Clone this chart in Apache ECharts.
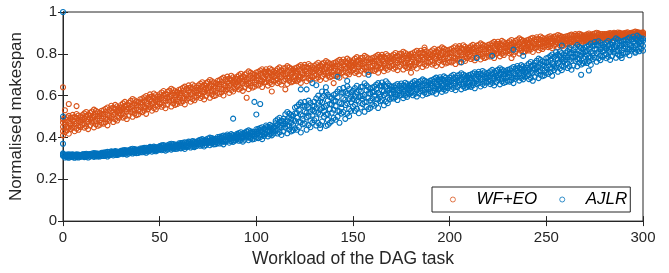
<!DOCTYPE html>
<html>
<head>
<meta charset="utf-8">
<title>Normalised makespan</title>
<script src="https://cdn.jsdelivr.net/npm/echarts@6/dist/echarts.min.js"></script>
<style>
  html, body { margin: 0; padding: 0; background: #fff; }
  #chart { width: 669px; height: 273px; }
</style>
</head>
<body>
<div id="chart"></div>
<script>
var xTicks = [0, 50, 100, 150, 200, 250, 300];
var yTicks = [0, 0.2, 0.4, 0.6, 0.8, 1];

// WF+EO: four samples per workload value, x = index (0..300)
var wfA = [
  .472,.491,.448,.503,.465,.447,.498,.469,.505,.486,
  .507,.490,.453,.475,.518,.471,.499,.512,.456,.481,
  .528,.500,.473,.487,.534,.525,.474,.538,.499,.516,
  .508,.495,.570,.536,.553,.537,.499,.578,.554,.511,
  .567,.586,.543,.598,.560,.545,.596,.567,.603,.584,
  .607,.590,.553,.575,.618,.571,.599,.612,.556,.581,
  .628,.600,.573,.587,.634,.622,.571,.635,.596,.613,
  .602,.589,.664,.630,.647,.628,.590,.669,.645,.602,
  .655,.674,.631,.686,.648,.630,.681,.652,.688,.669,
  .690,.673,.636,.658,.701,.654,.682,.695,.639,.664,
  .711,.683,.656,.670,.717,.699,.648,.712,.673,.690,
  .673,.660,.735,.701,.718,.694,.656,.735,.711,.668,
  .715,.734,.691,.746,.708,.686,.737,.708,.744,.725,
  .742,.725,.688,.710,.753,.703,.731,.744,.688,.713,
  .756,.728,.701,.715,.762,.746,.695,.759,.720,.737,
  .722,.709,.784,.750,.767,.743,.705,.784,.760,.717,
  .764,.783,.740,.795,.757,.734,.785,.756,.792,.773,
  .789,.772,.735,.757,.800,.748,.776,.789,.733,.758,
  .800,.772,.745,.759,.806,.788,.737,.801,.762,.779,
  .762,.749,.824,.790,.807,.784,.746,.825,.801,.758,
  .805,.824,.781,.836,.798,.776,.827,.798,.834,.815,
  .829,.814,.781,.800,.839,.794,.819,.831,.780,.803,
  .843,.818,.794,.806,.849,.834,.788,.846,.810,.826,
  .813,.802,.866,.837,.851,.834,.801,.868,.848,.811,
  .853,.868,.833,.877,.847,.831,.871,.848,.877,.862,
  .874,.862,.836,.851,.882,.847,.866,.875,.836,.854,
  .883,.866,.850,.858,.886,.878,.847,.885,.862,.872,
  .866,.860,.897,.880,.888,.878,.859,.898,.886,.865,
  .888,.895,.880,.899,.886,.879,.897,.887,.900,.893,
  .898,.893,.882,.888,.901,.887,.896,.900,.883,.890,
  .899
];
var wfB = [
  .451,.426,.482,.469,.441,.508,.465,.443,.480,.497,
  .482,.465,.504,.440,.491,.524,.477,.463,.490,.518,
  .470,.513,.537,.458,.496,.539,.522,.556,.481,.494,
  .544,.563,.527,.556,.505,.546,.584,.529,.572,.553,
  .546,.521,.577,.564,.536,.606,.563,.541,.578,.595,
  .582,.565,.604,.540,.591,.624,.577,.563,.590,.618,
  .570,.613,.637,.558,.596,.636,.619,.653,.578,.591,
  .638,.657,.621,.650,.599,.637,.675,.620,.663,.644,
  .634,.609,.665,.652,.624,.691,.648,.626,.663,.680,
  .665,.648,.687,.623,.674,.707,.660,.646,.673,.701,
  .653,.696,.720,.641,.679,.713,.696,.730,.655,.668,
  .709,.728,.692,.721,.670,.703,.741,.686,.729,.710,
  .694,.669,.725,.712,.684,.747,.704,.682,.719,.736,
  .717,.700,.739,.675,.726,.756,.709,.695,.722,.750,
  .698,.741,.765,.686,.724,.760,.743,.777,.702,.715,
  .758,.777,.741,.770,.719,.752,.790,.735,.778,.759,
  .743,.718,.774,.761,.733,.795,.752,.730,.767,.784,
  .764,.747,.786,.722,.773,.801,.754,.740,.767,.795,
  .742,.785,.809,.730,.768,.802,.785,.819,.744,.757,
  .798,.817,.781,.810,.759,.793,.831,.776,.819,.800,
  .784,.759,.815,.802,.774,.837,.794,.772,.809,.826,
  .807,.791,.827,.769,.815,.842,.799,.787,.811,.836,
  .791,.830,.851,.780,.814,.847,.831,.862,.794,.806,
  .844,.860,.829,.854,.810,.841,.874,.827,.863,.847,
  .836,.816,.861,.850,.828,.879,.845,.827,.857,.871,
  .856,.844,.872,.827,.863,.884,.851,.841,.860,.880,
  .848,.874,.888,.841,.864,.886,.876,.896,.851,.859,
  .884,.893,.876,.890,.864,.882,.901,.874,.895,.886,
  .881,.872,.892,.887,.877,.901,.885,.877,.891,.897,
  .891,.885,.897,.878,.893,.903,.889,.885,.893,.901,
  .892
];
var wfC = [
  .488,.460,.433,.447,.494,.481,.430,.494,.455,.472,
  .460,.447,.522,.488,.505,.486,.448,.527,.503,.460,
  .512,.531,.488,.543,.505,.491,.542,.513,.549,.530,
  .555,.538,.501,.523,.566,.522,.550,.563,.507,.532,
  .583,.555,.528,.542,.589,.579,.528,.592,.553,.570,
  .560,.547,.622,.588,.605,.586,.548,.627,.603,.560,
  .612,.631,.588,.643,.605,.588,.639,.610,.646,.627,
  .649,.632,.595,.617,.660,.613,.641,.654,.598,.623,
  .671,.643,.616,.630,.677,.664,.613,.677,.638,.655,
  .643,.630,.705,.671,.688,.669,.631,.710,.686,.643,
  .695,.714,.671,.726,.688,.665,.716,.687,.723,.704,
  .720,.703,.666,.688,.731,.679,.707,.720,.664,.689,
  .731,.703,.676,.690,.737,.720,.669,.733,.694,.711,
  .695,.682,.757,.723,.740,.718,.680,.759,.735,.692,
  .740,.759,.716,.771,.733,.712,.763,.734,.770,.751,
  .769,.752,.715,.737,.780,.728,.756,.769,.713,.738,
  .780,.752,.725,.739,.786,.768,.717,.781,.742,.759,
  .742,.729,.804,.770,.787,.763,.725,.804,.780,.737,
  .784,.803,.760,.815,.777,.754,.805,.776,.812,.793,
  .809,.792,.755,.777,.820,.769,.797,.810,.754,.779,
  .821,.793,.766,.780,.827,.810,.759,.823,.784,.801,
  .787,.775,.843,.812,.828,.807,.773,.844,.823,.784,
  .829,.846,.807,.857,.823,.803,.849,.823,.856,.838,
  .853,.839,.807,.826,.862,.821,.845,.856,.808,.829,
  .865,.843,.821,.833,.870,.858,.817,.868,.837,.851,
  .841,.832,.884,.861,.873,.857,.831,.886,.869,.839,
  .873,.885,.859,.892,.869,.857,.888,.870,.892,.881,
  .889,.881,.863,.874,.895,.870,.884,.891,.863,.876,
  .894,.884,.874,.879,.896,.891,.873,.896,.882,.888,
  .884,.880,.903,.892,.898,.892,.880,.904,.897,.884,
  .888
];
var wfD = [
  .430,.473,.497,.418,.456,.495,.478,.512,.437,.450,
  .496,.515,.479,.508,.457,.495,.533,.478,.521,.502,
  .491,.466,.522,.509,.481,.552,.509,.487,.524,.541,
  .530,.513,.552,.488,.539,.575,.528,.514,.541,.569,
  .525,.568,.592,.513,.551,.593,.576,.610,.535,.548,
  .596,.615,.579,.608,.557,.595,.633,.578,.621,.602,
  .591,.566,.622,.609,.581,.649,.606,.584,.621,.638,
  .624,.607,.646,.582,.633,.666,.619,.605,.632,.660,
  .613,.656,.680,.601,.639,.678,.661,.695,.620,.633,
  .679,.698,.662,.691,.640,.678,.716,.661,.704,.685,
  .674,.649,.705,.692,.664,.726,.683,.661,.698,.715,
  .695,.678,.717,.653,.704,.732,.685,.671,.698,.726,
  .673,.716,.740,.661,.699,.734,.717,.751,.676,.689,
  .731,.750,.714,.743,.692,.727,.765,.710,.753,.734,
  .719,.694,.750,.737,.709,.773,.730,.708,.745,.762,
  .744,.727,.766,.702,.753,.781,.734,.720,.747,.775,
  .722,.765,.789,.710,.748,.782,.765,.799,.724,.737,
  .778,.797,.761,.790,.739,.772,.810,.755,.798,.779,
  .763,.738,.794,.781,.753,.815,.772,.750,.787,.804,
  .784,.767,.806,.742,.793,.822,.775,.761,.788,.816,
  .763,.806,.830,.751,.789,.824,.807,.841,.766,.779,
  .819,.837,.804,.830,.784,.816,.850,.800,.839,.822,
  .810,.787,.838,.826,.801,.858,.819,.800,.833,.848,
  .832,.817,.850,.796,.839,.866,.826,.814,.837,.861,
  .819,.853,.873,.809,.840,.869,.855,.883,.823,.833,
  .866,.880,.854,.875,.839,.864,.890,.852,.882,.868,
  .861,.846,.879,.871,.855,.894,.868,.855,.877,.887,
  .877,.868,.888,.856,.881,.897,.874,.867,.880,.894,
  .873,.889,.897,.869,.883,.896,.890,.902,.875,.880,
  .895,.901,.890,.898,.883,.895,.906,.889,.902,.897,
  .903
];
var wfExtra = [[0,.64],[1,.53],[3,.56],[7,.55],[0,.41],[4,.44],[95,.59],[108,.62],
  [115,.63],[140,.66],[180,.71],[187,.83],[205,.76],[232,.78]];

// AJLR: four samples per workload value, x = index (0..300)
var ajA = [
  .320,.317,.309,.320,.312,.306,.317,.311,.318,.314,
  .319,.315,.307,.312,.321,.312,.318,.321,.309,.314,
  .327,.320,.313,.317,.329,.327,.314,.330,.320,.325,
  .324,.320,.340,.331,.336,.333,.323,.344,.338,.326,
  .342,.348,.336,.351,.340,.337,.352,.344,.354,.349,
  .359,.353,.341,.348,.363,.350,.359,.363,.345,.353,
  .372,.361,.351,.356,.374,.371,.352,.376,.361,.368,
  .366,.360,.392,.377,.385,.379,.363,.397,.386,.368,
  .394,.403,.382,.409,.390,.384,.409,.395,.412,.403,
  .417,.408,.387,.399,.423,.400,.415,.422,.391,.405,
  .439,.420,.402,.411,.443,.439,.405,.448,.422,.433,
  .432,.419,.494,.460,.477,.465,.420,.514,.486,.434,
  .515,.548,.475,.568,.504,.466,.553,.503,.565,.532,
  .571,.539,.469,.510,.592,.499,.552,.577,.470,.518,
  .603,.550,.499,.525,.615,.586,.489,.611,.536,.569,
  .548,.527,.647,.593,.620,.584,.523,.649,.611,.542,
  .617,.643,.583,.660,.607,.578,.649,.609,.659,.632,
  .642,.617,.593,.605,.648,.634,.588,.646,.610,.626,
  .614,.602,.670,.639,.655,.635,.601,.672,.651,.612,
  .658,.675,.636,.686,.652,.633,.679,.653,.686,.668,
  .686,.671,.638,.657,.696,.651,.676,.688,.637,.660,
  .698,.673,.649,.661,.704,.690,.644,.702,.666,.682,
  .667,.655,.723,.692,.708,.688,.654,.725,.704,.665,
  .709,.726,.687,.737,.703,.687,.733,.707,.740,.722,
  .745,.726,.685,.709,.757,.709,.740,.754,.693,.720,
  .779,.745,.713,.729,.786,.775,.714,.791,.744,.764,
  .748,.732,.822,.782,.802,.785,.740,.834,.806,.754,
  .811,.834,.783,.849,.803,.782,.844,.809,.852,.829,
  .845,.826,.785,.809,.857,.806,.837,.851,.790,.817,
  .863,.835,.808,.822,.869,.856,.805,.869,.830,.847,
  .862
];
var ajB = [
  .316,.304,.315,.313,.307,.319,.310,.306,.313,.316,
  .313,.310,.318,.304,.315,.323,.313,.310,.316,.322,
  .312,.323,.329,.309,.319,.330,.326,.335,.316,.319,
  .333,.338,.329,.337,.323,.335,.346,.331,.342,.337,
  .336,.329,.345,.342,.333,.355,.343,.336,.347,.352,
  .351,.345,.358,.337,.354,.367,.352,.347,.356,.365,
  .350,.366,.375,.345,.359,.377,.370,.383,.354,.359,
  .381,.389,.374,.386,.364,.383,.399,.376,.394,.386,
  .384,.371,.399,.392,.379,.414,.393,.382,.400,.408,
  .403,.394,.415,.380,.408,.429,.403,.395,.410,.425,
  .400,.429,.445,.392,.417,.449,.437,.460,.410,.419,
  .468,.487,.451,.480,.429,.476,.522,.456,.507,.484,
  .480,.437,.532,.510,.463,.570,.496,.459,.522,.551,
  .524,.491,.566,.444,.541,.600,.510,.484,.535,.588,
  .493,.575,.620,.470,.542,.613,.580,.645,.502,.527,
  .606,.636,.578,.625,.543,.598,.659,.571,.640,.609,
  .587,.552,.631,.613,.573,.663,.603,.572,.624,.648,
  .590,.629,.650,.579,.613,.647,.631,.662,.594,.606,
  .646,.664,.631,.657,.611,.644,.678,.628,.667,.650,
  .639,.616,.667,.655,.630,.688,.649,.630,.663,.678,
  .664,.648,.684,.626,.672,.699,.656,.644,.668,.693,
  .646,.685,.706,.635,.669,.703,.687,.718,.650,.662,
  .699,.717,.684,.710,.664,.697,.731,.681,.720,.703,
  .690,.667,.718,.706,.681,.742,.703,.684,.717,.732,
  .717,.698,.741,.671,.727,.767,.716,.700,.730,.761,
  .709,.761,.789,.695,.740,.792,.772,.812,.722,.738,
  .791,.814,.771,.806,.744,.796,.842,.776,.827,.804,
  .786,.756,.823,.808,.774,.856,.804,.778,.822,.842,
  .817,.798,.841,.771,.827,.864,.813,.797,.827,.858,
  .805,.848,.872,.793,.831,.870,.853,.887,.812,.825,
  .838
];
var ajC = [
  .324,.311,.306,.308,.318,.313,.303,.316,.308,.311,
  .309,.306,.322,.315,.319,.315,.307,.324,.319,.309,
  .323,.328,.317,.331,.321,.318,.331,.324,.333,.328,
  .336,.332,.322,.328,.339,.329,.336,.340,.325,.332,
  .347,.339,.331,.335,.349,.347,.332,.351,.340,.345,
  .343,.339,.364,.353,.358,.355,.342,.368,.360,.346,
  .366,.373,.356,.377,.363,.358,.378,.367,.380,.373,
  .385,.378,.363,.372,.390,.373,.385,.390,.367,.377,
  .402,.388,.375,.382,.405,.400,.375,.407,.388,.396,
  .391,.384,.425,.406,.416,.408,.387,.430,.417,.393,
  .428,.441,.412,.449,.423,.417,.451,.431,.455,.443,
  .479,.462,.425,.447,.490,.447,.481,.496,.429,.459,
  .543,.495,.449,.473,.553,.524,.437,.546,.479,.508,
  .482,.457,.600,.535,.568,.527,.455,.605,.560,.478,
  .573,.609,.527,.632,.560,.521,.618,.563,.632,.595,
  .623,.596,.537,.572,.641,.560,.604,.625,.536,.576,
  .639,.600,.562,.582,.648,.625,.554,.644,.589,.613,
  .628,.645,.606,.656,.622,.603,.649,.623,.656,.638,
  .656,.641,.608,.627,.666,.622,.647,.659,.608,.631,
  .672,.647,.623,.635,.678,.664,.618,.676,.640,.656,
  .644,.632,.700,.669,.685,.664,.630,.701,.680,.641,
  .684,.701,.662,.712,.678,.659,.705,.679,.712,.694,
  .709,.694,.661,.680,.719,.675,.700,.712,.661,.684,
  .723,.698,.674,.686,.729,.718,.672,.730,.694,.710,
  .693,.679,.761,.724,.743,.726,.684,.771,.744,.697,
  .759,.782,.731,.797,.751,.734,.796,.761,.804,.781,
  .804,.784,.740,.766,.818,.767,.801,.816,.749,.779,
  .831,.797,.765,.781,.838,.823,.762,.839,.792,.812,
  .793,.779,.861,.824,.843,.823,.781,.868,.841,.794,
  .847,.866,.823,.878,.840,.822,.873,.844,.880,.861,
  .873
];
var ajD = [
  .312,.314,.318,.303,.310,.316,.313,.319,.304,.307,
  .317,.321,.313,.319,.308,.317,.325,.313,.323,.319,
  .318,.311,.326,.322,.315,.334,.323,.317,.327,.331,
  .330,.325,.335,.318,.332,.343,.330,.327,.334,.342,
  .330,.343,.350,.327,.338,.351,.346,.356,.334,.338,
  .355,.362,.350,.359,.342,.358,.370,.352,.366,.360,
  .358,.348,.369,.364,.354,.381,.365,.357,.371,.377,
  .375,.368,.384,.357,.379,.395,.376,.370,.381,.393,
  .373,.394,.406,.367,.386,.407,.399,.416,.379,.385,
  .411,.421,.401,.417,.389,.413,.434,.403,.427,.417,
  .414,.397,.435,.426,.407,.457,.429,.414,.439,.450,
  .454,.437,.476,.412,.463,.511,.454,.438,.470,.504,
  .444,.517,.558,.424,.488,.548,.519,.576,.449,.471,
  .550,.587,.518,.573,.476,.545,.617,.512,.594,.558,
  .533,.485,.592,.567,.514,.637,.555,.514,.584,.616,
  .583,.556,.618,.516,.598,.644,.569,.547,.590,.635,
  .558,.618,.652,.541,.594,.645,.621,.669,.564,.582,
  .609,.586,.637,.625,.600,.658,.619,.600,.633,.648,
  .634,.618,.654,.596,.642,.670,.627,.615,.639,.664,
  .620,.659,.680,.609,.643,.677,.661,.692,.624,.636,
  .676,.694,.661,.687,.641,.673,.707,.657,.696,.679,
  .665,.642,.693,.681,.656,.714,.675,.656,.689,.704,
  .687,.671,.707,.649,.695,.723,.680,.668,.692,.717,
  .671,.710,.731,.660,.694,.731,.715,.746,.678,.690,
  .733,.754,.714,.746,.690,.736,.777,.717,.764,.743,
  .734,.704,.771,.756,.722,.808,.756,.730,.774,.794,
  .774,.754,.801,.724,.785,.831,.774,.758,.790,.824,
  .761,.813,.841,.747,.792,.840,.820,.860,.770,.786,
  .833,.854,.814,.846,.790,.833,.874,.814,.861,.840,
  .826,.801,.857,.844,.816,.883,.840,.818,.855,.872,
  .815
];
var ajExtra = [[0,1.0],[0,.50],[0,.37],[88,.49],[99,.57],[100,.51],[102,.56],[123,.63],
  [126,.63],[129,.66],[131,.65],[134,.62],[136,.64],[142,.69],[147,.67],[158,.70],[133,.46],
  [137,.46],[206,.76],[214,.78],[222,.79],[233,.82],[238,.79],[258,.84],[262,.83],[268,.70],
  [272,.72],[289,.78],[296,.81]];

function pts(arrs, extra) {
  var out = [];
  arrs.forEach(function (a) {
    a.forEach(function (v, i) { out.push([i, v]); });
  });
  return out.concat(extra);
}

var myChart = echarts.init(document.getElementById('chart'));
var axisCol = '#262626';
var font = 'Liberation Sans, Arial, sans-serif';

var option = {
  backgroundColor: '#fff',
  animation: false,
  grid: { left: 63, right: 26, top: 12, bottom: 50, show: true, borderColor: axisCol, borderWidth: 1 },
  legend: {
    left: 432, top: 187,
    padding: [4, 3, 4, 18],
    borderColor: axisCol, borderWidth: 1, backgroundColor: '#fff',
    itemWidth: 5, itemHeight: 5, itemGap: 22,
    itemStyle: { borderWidth: 0.8 },
    textStyle: { fontFamily: font, fontSize: 17, fontStyle: 'italic', color: '#000', padding: [0, 0, 0, 16] },
    data: ['WF+EO', 'AJLR']
  },
  xAxis: [{
    type: 'value', min: 0, max: 300, interval: 50,
    name: 'Workload of the DAG task', nameLocation: 'middle', nameGap: 28,
    nameTextStyle: { fontFamily: font, fontSize: 17.5, color: axisCol },
    axisLine: { lineStyle: { color: axisCol } },
    axisTick: { inside: true, length: 5, lineStyle: { color: axisCol } },
    axisLabel: { fontFamily: font, fontSize: 15, color: axisCol, margin: 9,
      formatter: function (v) { return xTicks.indexOf(v) >= 0 ? v : ''; } },
    splitLine: { show: false }
  }, {
    type: 'value', min: 0, max: 300, interval: 50, position: 'top',
    axisLine: { lineStyle: { color: axisCol } },
    axisTick: { inside: true, length: 5, lineStyle: { color: axisCol } },
    axisLabel: { show: false }, splitLine: { show: false }
  }],
  yAxis: [{
    type: 'value', min: 0, max: 1, interval: 0.2,
    name: 'Normalised makespan', nameLocation: 'middle', nameGap: 33,
    nameTextStyle: { fontFamily: font, fontSize: 17, color: axisCol },
    axisLine: { show: true, lineStyle: { color: axisCol } },
    axisTick: { show: true, inside: true, length: 5, lineStyle: { color: axisCol } },
    axisLabel: { fontFamily: font, fontSize: 15, color: axisCol, margin: 6,
      formatter: function (v) {
        var t = yTicks.filter(function (y) { return Math.abs(y - v) < 1e-6; });
        return t.length ? String(t[0]) : '';
      } },
    splitLine: { show: false }
  }, {
    type: 'value', min: 0, max: 1, interval: 0.2, position: 'right',
    axisLine: { show: true, lineStyle: { color: axisCol } },
    axisTick: { show: true, inside: true, length: 5, lineStyle: { color: axisCol } },
    axisLabel: { show: false }, splitLine: { show: false }
  }],
  series: [{
    name: 'WF+EO', type: 'scatter', symbol: 'circle', symbolSize: 5,
    itemStyle: { color: 'rgba(0,0,0,0)', borderColor: '#D95319', borderWidth: 1.1, opacity: 1 },
    data: pts([wfA, wfB, wfC, wfD], wfExtra)
  }, {
    name: 'AJLR', type: 'scatter', symbol: 'circle', symbolSize: 5,
    itemStyle: { color: 'rgba(0,0,0,0)', borderColor: '#0072BD', borderWidth: 1.1, opacity: 1 },
    data: pts([ajA, ajB, ajC, ajD], ajExtra)
  }]
};

myChart.setOption(option);
window.addEventListener('resize', function () { myChart.resize(); });
</script>
</body>
</html>
